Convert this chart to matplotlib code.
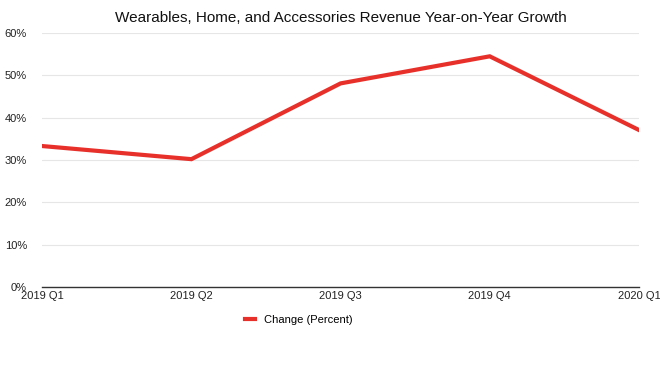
import matplotlib.pyplot as plt
from matplotlib.ticker import FuncFormatter

plt.rcParams['font.family'] = ['Liberation Sans', 'DejaVu Sans']

quarters = ['2019 Q1', '2019 Q2', '2019 Q3', '2019 Q4', '2020 Q1']
change = [33.3, 30.2, 48.1, 54.5, 37.1]
series_name = 'Change (Percent)'
yticks = [0, 10, 20, 30, 40, 50, 60]

fig = plt.figure(figsize=(6.6, 3.67), dpi=100)
ax = fig.add_axes([0.064, 0.218, 0.904, 0.692])

x = range(len(quarters))
ax.plot(x, change, color='#e8302b', lw=3.0, solid_joinstyle='miter', label=series_name)

ax.set_xlim(0, len(quarters) - 1)
ax.set_ylim(0, 60)
ax.set_yticks(yticks)
ax.yaxis.set_major_formatter(FuncFormatter(lambda v, p: '%d%%' % v))
ax.set_xticks(list(x))
ax.set_xticklabels(quarters)

ax.grid(axis='y', color='#e6e6e6', lw=0.8)
ax.set_axisbelow(True)
for s in ['top', 'right', 'left']:
    ax.spines[s].set_visible(False)
ax.spines['bottom'].set_color('#333333')
ax.spines['bottom'].set_linewidth(1.0)
ax.tick_params(length=0, labelsize=8, colors='#222222')
ax.tick_params(axis='x', pad=3)
ax.tick_params(axis='y', pad=11)

ax.set_title('Wearables, Home, and Accessories Revenue Year-on-Year Growth',
             fontsize=11, pad=8, color='#111111')

ax.legend(loc='upper center', bbox_to_anchor=(0.43, -0.07), frameon=False,
          fontsize=8, handlelength=0.9, handletextpad=0.8)

plt.savefig('out.png')
